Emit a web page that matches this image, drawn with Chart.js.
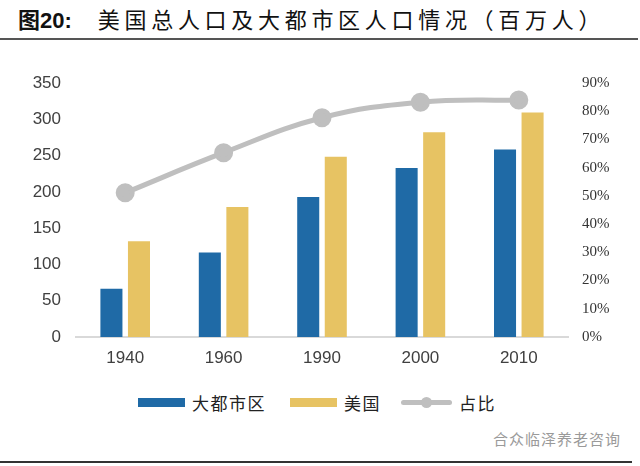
<!DOCTYPE html>
<html>
<head>
<meta charset="utf-8">
<script src="https://cdn.jsdelivr.net/npm/chart.js@4/dist/chart.umd.min.js"></script>
<style>
  body { margin: 0; width: 640px; height: 466px; background: #fff; position: relative; overflow: hidden; font-family: "Noto Sans CJK SC", sans-serif; }
  #title { position: absolute; left: 18px; top: 2px; font-size: 22px; color: #111; letter-spacing: 4.7px; white-space: nowrap; }
  #title b { font-family: "Liberation Sans", "Noto Sans CJK SC", sans-serif; font-weight: bold; letter-spacing: 0; margin-right: 26px; }
  #rule1 { position: absolute; left: 0; top: 38px; width: 638px; height: 2px; background: #555; }
  #rule2 { position: absolute; left: 0; top: 461px; width: 632px; height: 2px; background: #333; }
  #wrap { position: absolute; left: 0; top: 0; width: 640px; height: 380px; }
  #legend { position: absolute; left: 138px; top: 390px; display: flex; align-items: center; font-size: 17px; color: #222; letter-spacing: 1.5px; }
  #legend .sw { width: 47px; height: 9px; margin-right: 7px; }
  #legend .ln { width: 51px; height: 5px; margin-right: 7px; position: relative; border-radius: 3px; }
  #legend .ln i { position: absolute; left: 20px; top: -3px; width: 11px; height: 11px; border-radius: 50%; }
  #legend .item { display: flex; align-items: center; margin-right: 24px; }
  #legend .item:nth-child(2) { margin-right: 20px; }
  #wm { position: absolute; left: 493px; top: 428px; font-size: 15px; color: #9a9a9a; letter-spacing: 1px; }
</style>
</head>
<body>
<div id="title"><b>图20:</b>美国总人口及大都市区人口情况（百万人）</div>
<div id="rule1"></div>
<div id="wrap"><canvas id="popChart"></canvas></div>
<div id="legend"></div>
<div id="wm">合众临泽养老咨询</div>
<div id="rule2"></div>
<script>
  // data (millions / share)
  const years = ['1940', '1960', '1990', '2000', '2010'];
  const metroPop = [66.5, 116.5, 193, 233, 258.5];
  const usPop = [132, 179, 248.5, 282, 309.5];
  const metroShare = [0.511, 0.653, 0.777, 0.832, 0.840];
  const seriesNames = ['大都市区', '美国', '占比'];
  const seriesColors = ['#1f6aa6', '#e7c363', '#bfbfbf'];

  // legend
  const legend = document.getElementById('legend');
  seriesNames.forEach((name, i) => {
    const item = document.createElement('div');
    item.className = 'item';
    const sw = document.createElement('span');
    sw.style.background = seriesColors[i];
    if (i === 2) {
      sw.className = 'ln';
      const dot = document.createElement('i');
      dot.style.background = seriesColors[i];
      sw.appendChild(dot);
    } else {
      sw.className = 'sw';
    }
    item.appendChild(sw);
    item.appendChild(document.createTextNode(name));
    legend.appendChild(item);
  });

  const ctx = document.getElementById('popChart').getContext('2d');
  new Chart(ctx, {
    data: {
      labels: years,
      datasets: [
        {
          type: 'line',
          label: seriesNames[2],
          data: metroShare,
          yAxisID: 'y1',
          borderColor: seriesColors[2],
          backgroundColor: seriesColors[2],
          borderWidth: 5,
          pointRadius: 7,
          pointHoverRadius: 7,
          tension: 0.4,
          order: 0
        },
        {
          type: 'bar',
          label: seriesNames[0],
          data: metroPop,
          backgroundColor: seriesColors[0],
          categoryPercentage: 0.56,
          barPercentage: 0.8,
          order: 1
        },
        {
          type: 'bar',
          label: seriesNames[1],
          data: usPop,
          backgroundColor: seriesColors[1],
          categoryPercentage: 0.56,
          barPercentage: 0.8,
          order: 1
        }
      ]
    },
    options: {
      responsive: true,
      maintainAspectRatio: false,
      animation: false,
      layout: { padding: { top: 83, bottom: 0, left: 0, right: 0 } },
      plugins: {
        legend: { display: false },
        title: { display: false },
        tooltip: { enabled: false }
      },
      scales: {
        x: {
          grid: { display: false, drawTicks: false },
          border: { display: true, color: '#d9d9d9', width: 2 },
          ticks: { color: '#404040', padding: 11, font: { family: 'Liberation Sans', size: 17 } },
          afterFit: (s) => { s.height = 43; }
        },
        y: {
          position: 'left',
          min: 0,
          max: 350,
          grid: { display: false, drawTicks: false },
          border: { display: false },
          ticks: { stepSize: 50, color: '#404040', padding: 15, font: { family: 'Liberation Sans', size: 17 } },
          afterFit: (s) => { s.width = 76; }
        },
        y1: {
          position: 'right',
          min: 0,
          max: 0.9,
          grid: { display: false, drawTicks: false },
          border: { display: false },
          ticks: {
            stepSize: 0.1,
            color: '#333',
            padding: 14,
            font: { family: 'Liberation Serif', size: 15 },
            callback: (v) => Math.round(v * 100) + '%'
          },
          afterFit: (s) => { s.width = 72; }
        }
      }
    }
  });
</script>
</body>
</html>
